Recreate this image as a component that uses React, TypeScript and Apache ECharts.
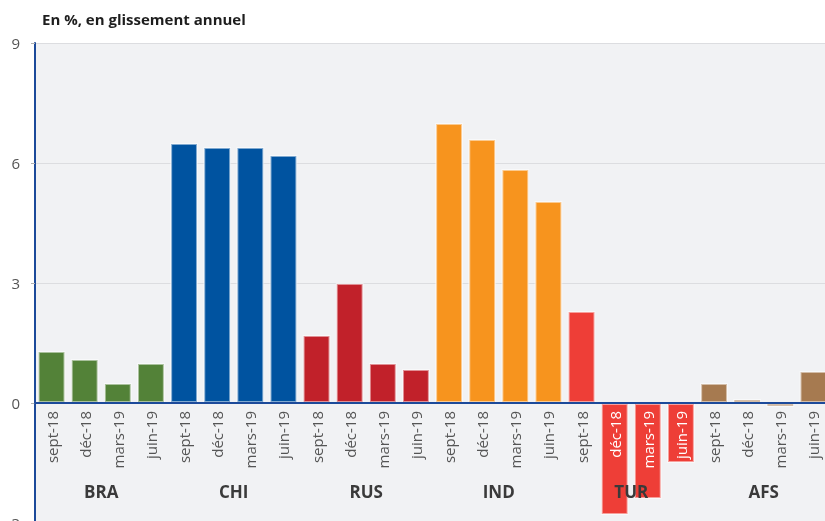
import React, { useEffect, useRef } from "react";
import * as echarts from "echarts";

const groups = ["BRA", "CHI", "RUS", "IND", "TUR", "AFS"];
const periods = ["sept-18", "déc-18", "mars-19", "juin-19"];
const BRA = [1.3, 1.1, 0.5, 1.0];
const CHI = [6.5, 6.4, 6.4, 6.2];
const RUS = [1.7, 3.0, 1.0, 0.85];
const IND = [7.0, 6.6, 5.85, 5.05];
const TUR = [2.3, -2.8, -2.4, -1.5];
const AFS = [0.5, 0.1, -0.1, 0.8];
const groupValues = [BRA, CHI, RUS, IND, TUR, AFS];
const groupColors = ["#538238", "#0053a0", "#c1212a", "#f7941e", "#ee3e37", "#a67a50"];
const whiteLabelIdx = [17, 18, 19];
const yTicks = { min: -3, max: 9, interval: 3 };

export default function App() {
  const ref = useRef<HTMLDivElement>(null);
  useEffect(() => {
    if (!ref.current) return;
    const chart = echarts.init(ref.current, null, { renderer: "svg" });
    const categories: string[] = [];
    const data: any[] = [];
    groups.forEach((g, gi) => {
      groupValues[gi].forEach((v, pi) => {
        categories.push(periods[pi]);
        data.push({ value: v, itemStyle: { color: groupColors[gi] } });
      });
    });
    chart.setOption({
      animation: false,
      title: {
        text: "En %, en glissement annuel",
        left: 37,
        top: 6,
        textStyle: { fontFamily: "Open Sans", fontSize: 15, fontWeight: "bold", color: "#1e1e1e" },
      },
      grid: {
        left: 35,
        right: -5,
        top: 43,
        bottom: -2,
        show: true,
        backgroundColor: "#f1f2f4",
        borderWidth: 0,
        containLabel: false,
        outerBoundsMode: "none",
      },
      xAxis: [
        {
          type: "category",
          data: categories,
          position: "bottom",
          offset: -120,
          z: 10,
          axisLine: { onZero: false, lineStyle: { color: "#1c4a9a", width: 2 } },
          axisTick: { show: false },
          axisLabel: {
            rotate: 90,
            interval: 0,
            margin: 8,
            fontFamily: "Open Sans",
            fontSize: 15,
            color: (_v: any, idx: number) => (whiteLabelIdx.includes(idx) ? "#ffffff" : "#555555"),
          },
        },
        {
          type: "category",
          data: groups,
          position: "bottom",
          offset: -40,
          z: 10,
          axisLine: { show: false, onZero: false },
          axisTick: { show: false },
          axisLabel: {
            interval: 0,
            margin: 0,
            fontFamily: "Open Sans",
            fontSize: 17,
            fontWeight: "bold",
            color: "#3a3a3a",
          },
        },
      ],
      yAxis: {
        type: "value",
        min: yTicks.min,
        max: yTicks.max,
        interval: yTicks.interval,
        axisLine: { show: true, lineStyle: { color: "#1c4a9a", width: 2 } },
        axisTick: { show: true, length: 4, lineStyle: { color: "#b0b0b0" } },
        axisLabel: { margin: 15, fontFamily: "Open Sans", fontSize: 15, color: "#555555" },
        splitLine: { lineStyle: { color: "#dcdde0", width: 1 } },
      },
      series: [
        {
          type: "bar",
          xAxisIndex: 0,
          data,
          barCategoryGap: "16%",
          itemStyle: { borderColor: "rgba(255,255,255,0.5)", borderWidth: 2 },
        },
      ],
    });
    return () => chart.dispose();
  }, []);
  return <div ref={ref} style={{ position: "fixed", left: 0, top: 0, width: 825, height: 521 }} />;
}
